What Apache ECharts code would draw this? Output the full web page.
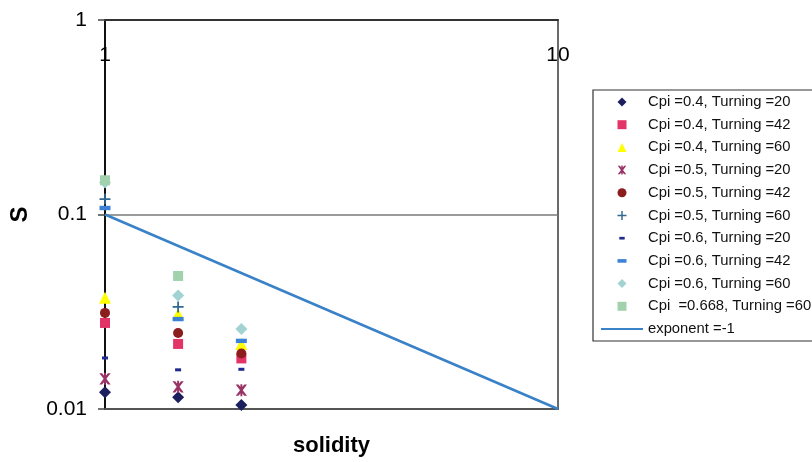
<!DOCTYPE html>
<html>
<head>
<meta charset="utf-8">
<script src="https://cdn.jsdelivr.net/npm/echarts@6/dist/echarts.min.js"></script>
<style>
  html, body { margin: 0; padding: 0; background: #ffffff; }
  #chart { width: 812px; height: 462px; }
</style>
</head>
<body>
<div id="chart"></div>
<script>
// Solidity values (x) shared by every measured series
const solidity = [1, 1.45, 2];

// S values per (Cpi, Turning) combination
const cpi04_t20 = [0.0122, 0.0115, 0.0105];
const cpi04_t42 = [0.0277, 0.0216, 0.0182];
const cpi04_t60 = [0.0373, 0.0308, 0.0216];
const cpi05_t20 = [0.0143, 0.0130, 0.0125];
const cpi05_t42 = [0.0312, 0.0246, 0.0193];
const cpi05_t60 = [0.1200, 0.0335, null];
const cpi06_t20 = [0.0183, 0.0159, 0.0160];
const cpi06_t42 = [0.1080, 0.0290, 0.0224];
const cpi06_t60 = [0.1460, 0.0383, 0.0258];
const cpi0668_t60 = [0.1500, 0.0483, null];

// Reference slope line, exponent -1
const exponentX = [1, 10];
const exponentY = [0.1, 0.01];

// Axis ticks
const xTickLabels = ['1', '10'];
const yTickLabels = ['0.01', '0.1', '1'];

const seriesNames = [
  'Cpi =0.4, Turning =20',
  'Cpi =0.4, Turning =42',
  'Cpi =0.4, Turning =60',
  'Cpi =0.5, Turning =20',
  'Cpi =0.5, Turning =42',
  'Cpi =0.5, Turning =60',
  'Cpi =0.6, Turning =20',
  'Cpi =0.6, Turning =42',
  'Cpi =0.6, Turning =60',
  'Cpi  =0.668, Turning =60'
];
const lineName = 'exponent =-1';

// Marker shapes, all on a 10x10 box so legend icons keep their proportions
const DIAMOND = 'path://M5,0 L10,5 L5,10 L0,5 Z';
const SQUARE = 'path://M0,0 L10,0 L10,10 L0,10 Z';
const TRIANGLE = 'path://M5,0 L10,10 L0,10 Z';
const CIRCLE = 'path://M0,5 A5,5 0 1 1 10,5 A5,5 0 1 1 0,5 Z';
const X_MARK = 'path://M0,0 M10,10 M0.3,0.3 L2.6,0.3 L5,3.2 L7.4,0.3 L9.7,0.3 L6.3,4.8 L6.3,5.2 L9.7,9.7 L7.4,9.7 L5,6.8 L2.6,9.7 L0.3,9.7 L3.7,5.2 L3.7,4.8 Z M4.2,0 L5.8,0 L5.8,10 L4.2,10 Z';
const PLUS_MARK = 'path://M0,0 M10,10 M4.2,0 L5.8,0 L5.8,4.2 L10,4.2 L10,5.8 L5.8,5.8 L5.8,10 L4.2,10 L4.2,5.8 L0,5.8 L0,4.2 L4.2,4.2 Z';
const SHORT_DASH = 'path://M0,0 M10,10 M2,3.5 L8,3.5 L8,6.5 L2,6.5 Z';
const LONG_DASH = 'path://M0,0 M10,10 M0,3 L10,3 L10,7 L0,7 Z';

const seriesValues = [cpi04_t20, cpi04_t42, cpi04_t60, cpi05_t20, cpi05_t42,
                      cpi05_t60, cpi06_t20, cpi06_t42, cpi06_t60, cpi0668_t60];
const seriesColors = ['#1b1f5e', '#e33468', '#ffff00', '#993366', '#8c1d1d',
                      '#2f6a92', '#1f2a8e', '#3b82d6', '#a3d2d2', '#a2d2ad'];
const seriesSymbols = [DIAMOND, SQUARE, TRIANGLE, X_MARK, CIRCLE,
                       PLUS_MARK, SHORT_DASH, LONG_DASH, DIAMOND, SQUARE];
const seriesSizes = [12, 10, 12, 12, 10, 11, 10, 11, 12, 10];

function pairs(xs, ys) {
  const out = [];
  for (let i = 0; i < xs.length; i++) {
    if (ys[i] != null) out.push([xs[i], ys[i]]);
  }
  return out;
}

const series = seriesValues.map((vals, i) => ({
  name: seriesNames[i],
  type: 'scatter',
  xAxisIndex: 0,
  data: pairs(solidity, vals),
  symbol: seriesSymbols[i],
  symbolSize: seriesSizes[i],
  itemStyle: { color: seriesColors[i], opacity: 1 },
  emphasis: { disabled: true }
}));

series.push({
  name: lineName,
  type: 'line',
  xAxisIndex: 0,
  data: pairs(exponentX, exponentY),
  symbol: 'none',
  showSymbol: false,
  lineStyle: { color: '#3a82c8', width: 2.5 },
  itemStyle: { color: 'rgba(0,0,0,0)', borderColor: 'rgba(0,0,0,0)', borderWidth: 0 },
  z: 1,
  emphasis: { disabled: true }
});

const chart = echarts.init(document.getElementById('chart'), null, { renderer: 'canvas' });

const FONT = 'Liberation Sans, Arial, sans-serif';

function fmtTick(labels) {
  return function (v) {
    const s = String(+Number(v).toPrecision(3));
    return labels.indexOf(s) >= 0 ? s : '';
  };
}

chart.setOption({
  animation: false,
  backgroundColor: '#ffffff',
  grid: {
    left: 105, top: 20, right: 254, bottom: 53,
    show: true, borderColor: '#3a3a3a', borderWidth: 1.5, backgroundColor: 'transparent'
  },
  legend: {
    orient: 'vertical',
    left: 593, top: 90,
    padding: [4, 12, 4, 7],
    borderColor: '#333333', borderWidth: 1.2,
    itemWidth: 42, itemHeight: 9, itemGap: 6.7,
    selectedMode: false,
    align: 'left',
    data: seriesNames.concat([lineName]),
    textStyle: { fontFamily: FONT, fontSize: 14.8, color: '#111', lineHeight: 16 }
  },
  xAxis: [
    {
      type: 'log', logBase: 10, min: 1, max: 10,
      position: 'bottom',
      name: 'solidity', nameLocation: 'middle', nameGap: 26,
      nameTextStyle: { fontFamily: FONT, fontSize: 22, fontWeight: 'bold', color: '#000' },
      axisLine: { show: true, lineStyle: { color: '#555', width: 2 } },
      axisTick: { show: false },
      axisLabel: { show: false },
      splitLine: { show: false }
    },
    {
      type: 'log', logBase: 10, min: 1, max: 10,
      position: 'top',
      axisLine: { show: true, lineStyle: { color: '#333', width: 2 } },
      axisTick: { show: false },
      axisLabel: {
        show: true, inside: true, margin: 25,
        fontFamily: FONT, fontSize: 21, color: '#000',
        formatter: fmtTick(xTickLabels)
      },
      splitLine: { show: false }
    }
  ],
  yAxis: {
    type: 'log', logBase: 10, min: 0.01, max: 1,
    name: 'S', nameLocation: 'middle', nameGap: 73,
    nameTextStyle: { fontFamily: FONT, fontSize: 24, fontWeight: 'bold', color: '#000' },
    axisLine: { show: true, lineStyle: { color: '#111', width: 2 } },
    axisTick: { show: true, inside: false, length: 7, lineStyle: { color: '#444', width: 1.5 } },
    axisLabel: {
      margin: 18, fontFamily: FONT, fontSize: 21, color: '#000',
      formatter: fmtTick(yTickLabels)
    },
    splitLine: { show: true, lineStyle: { color: '#7a7a7a', width: 1.5 } }
  },
  series: series
});
</script>
</body>
</html>
